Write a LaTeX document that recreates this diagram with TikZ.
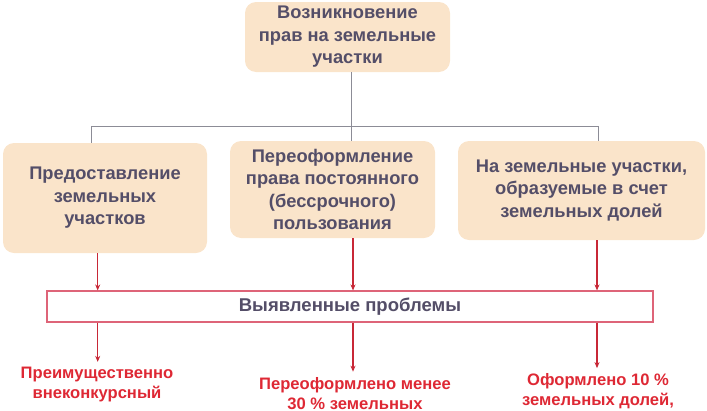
\documentclass[tikz,border=0pt]{standalone}
\usepackage{fontspec}
\setmainfont{Liberation Sans}
\usetikzlibrary{arrows.meta}
\definecolor{boxfill}{RGB}{250,228,202}
\definecolor{boxtext}{RGB}{84,78,104}
\definecolor{grayline}{RGB}{140,140,150}
\definecolor{redtext}{RGB}{222,40,52}
\definecolor{redarrow}{RGB}{200,40,55}
\definecolor{pinkborder}{RGB}{222,100,120}
\tikzset{
  topbox/.style={fill=boxfill, rounded corners=11pt, inner sep=0pt, align=center,
    text=boxtext, font=\bfseries\fontsize{18.3}{22.5}\selectfont},
  probbox/.style={draw=pinkborder, line width=1.1pt, fill=white, inner sep=0pt,
    text=boxtext, font=\bfseries\fontsize{18.5}{20}\selectfont},
  redlabel/.style={text=redtext, align=center, inner sep=0pt,
    font=\bfseries\fontsize{16.6}{20}\selectfont},
  conn/.style={draw=grayline, line width=0.9pt},
  arr/.style={draw=redarrow, line width=1.1pt, -{Stealth[length=6pt,width=5pt]}}
}
\begin{document}
\begin{tikzpicture}[x=1pt,y=-1pt]
\useasboundingbox (0,0) rectangle (707,410);
% boxes
\node[topbox, minimum width=205pt, minimum height=70pt] (top) at (347.5,37) {Возникновение\\прав на земельные\\участки};
\node[topbox, minimum width=204pt, minimum height=110pt] (left) at (105,198) {Предоставление\\земельных\\участков};
\node[topbox, minimum width=205pt, minimum height=97pt] (mid) at (332.5,189.5) {Переоформление\\права постоянного\\(бессрочного)\\пользования};
\node[topbox, minimum width=247pt, minimum height=99pt] (right) at (581.5,190.5) {На земельные участки,\\образуемые в счет\\земельных долей};
\node[probbox, minimum width=606pt, minimum height=31pt] (prob) at (350,306.5) {Выявленные проблемы};
% red labels
\node[redlabel] (t1) at (97,384.5) {Преимущественно\\внеконкурсный};
\node[redlabel] (t2) at (355,394) {Переоформлено менее\\30 \% земельных};
\node[redlabel] (t3) at (598,391) {Оформлено 10 \%\\земельных долей,};
% gray connectors
\coordinate (j1) at (91,126);
\coordinate (j2) at (351,126);
\coordinate (j3) at (598,126);
\draw[conn] (j2 |- top.south) -- (j2);
\draw[conn] (j1) -- (j3);
\draw[conn] (j1) -- (j1 |- left.north);
\draw[conn] (j2) -- (j2 |- mid.north);
\draw[conn] (j3) -- (j3 |- right.north);
% red arrows
\coordinate (a1) at (97.7,0);
\coordinate (a2) at (353,0);
\coordinate (a3) at (597,0);
\draw[arr] (a1 |- left.south) -- (a1 |- prob.north);
\draw[arr] (a2 |- mid.south) -- (a2 |- prob.north);
\draw[arr] (a3 |- right.south) -- (a3 |- prob.north);
\draw[arr, shorten >=5pt] (a1 |- prob.south) -- (a1 |- t1.north);
\draw[arr, shorten >=6pt] (a2 |- prob.south) -- (a2 |- t2.north);
\draw[arr, shorten >=5pt] (a3 |- prob.south) -- (a3 |- t3.north);
\end{tikzpicture}
\end{document}
